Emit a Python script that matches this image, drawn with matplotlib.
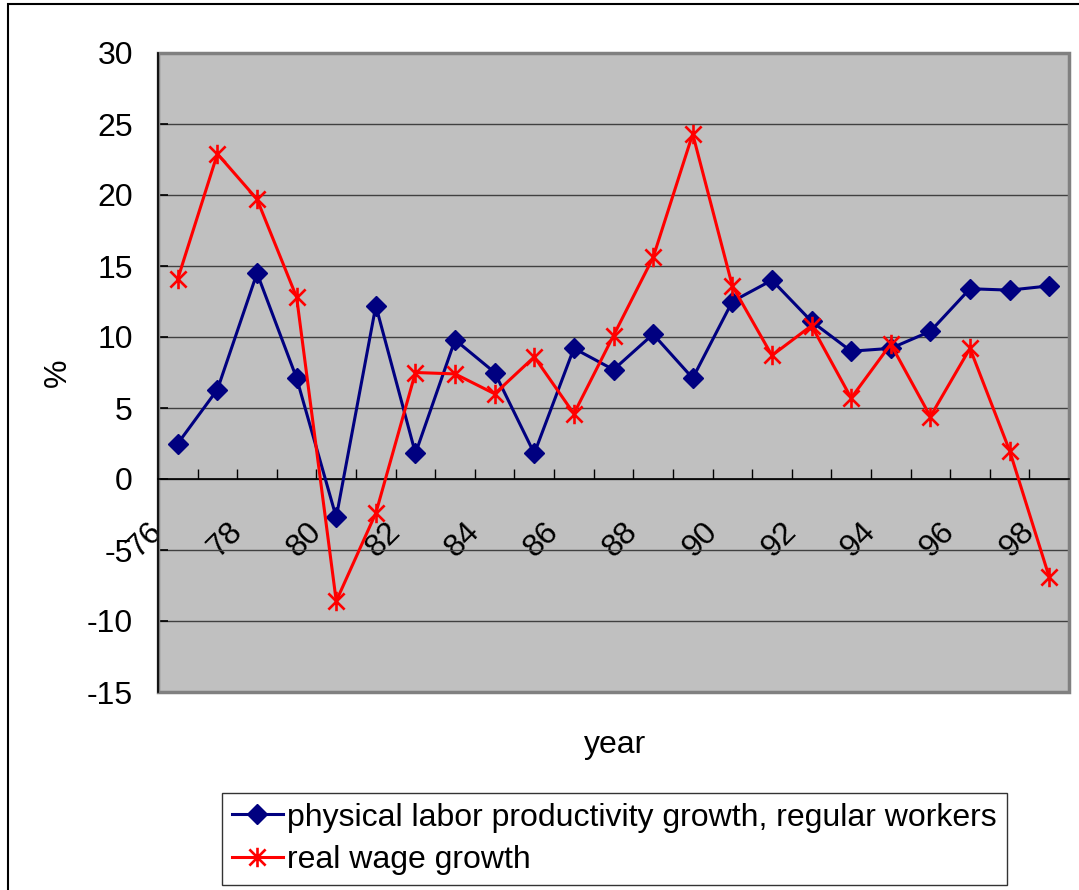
import numpy as np
import matplotlib
matplotlib.use('Agg')
import matplotlib.pyplot as plt
from matplotlib.path import Path
from matplotlib.patches import Rectangle
from matplotlib.transforms import ScaledTranslation

plt.rcParams['font.family'] = ['Liberation Sans', 'DejaVu Sans']
plt.rcParams['axes.unicode_minus'] = False

# years 1976..1998 (two-digit labels, every other one shown)
years = list(range(76, 99))
productivity = [2.5, 6.3, 14.5, 7.1, -2.7, 12.2, 1.8, 9.8, 7.5, 1.8, 9.2, 7.7,
                10.2, 7.1, 12.5, 14.0, 11.1, 9.0, 9.2, 10.4, 13.4, 13.3, 13.6]
real_wage = [14.1, 22.9, 19.7, 12.8, -8.6, -2.4, 7.5, 7.4, 6.0, 8.6, 4.6, 10.1,
             15.6, 24.3, 13.6, 8.7, 10.8, 5.7, 9.5, 4.4, 9.2, 2.0, -6.9]
tick_labels = [str(y) if (y - 76) % 2 == 0 else '' for y in years]

FS = 23

# Excel-like asterisk marker: an X with a vertical bar through it
star = Path([(-1, -1), (1, 1), (-1, 1), (1, -1), (0, -1.2), (0, 1.2)],
            [Path.MOVETO, Path.LINETO, Path.MOVETO, Path.LINETO, Path.MOVETO, Path.LINETO])

fig = plt.figure(figsize=(10.79, 8.90), dpi=100)
ax = fig.add_axes([158/1079, 1 - 692/890, (1069 - 158)/1079, (692 - 53)/890])
ax.set_facecolor('#C0C0C0')

x = np.arange(len(years))
ax.plot(x, productivity, color='#000080', lw=2.2, marker='D', ms=10.5,
        label='physical labor productivity growth, regular workers', zorder=3)
ax.plot(x, real_wage, color='#FF0000', lw=2.2, marker=star, ms=14, mew=1.9,
        mfc='none', label='real wage growth', zorder=3)

ax.set_xlim(-0.5, len(years) - 0.5)
ax.set_ylim(-15, 30)
ax.set_yticks(np.arange(-15, 31, 5))
ax.yaxis.grid(True, color='#404040', lw=1)
ax.set_axisbelow(True)

# category axis crosses at zero, ticks between categories
ax.spines['bottom'].set_position(('data', 0))
ax.spines['bottom'].set_color('black')
ax.spines['bottom'].set_linewidth(1.2)
ax.spines['left'].set_color('black')
ax.spines['left'].set_linewidth(1.2)
ax.spines['top'].set_visible(False)
ax.spines['right'].set_visible(False)
ax.add_patch(Rectangle((0, 0), 1, 1, transform=ax.transAxes, fill=False,
                       edgecolor='#808080', lw=2.5, zorder=1, clip_on=False))

ax.set_xticks(x)
ax.set_xticklabels(tick_labels, rotation=45, ha='right', va='top', fontsize=FS)
ax.set_xticks(list(x[:-1] + 0.5) + [len(years) - 0.5], minor=True)
ax.tick_params(axis='x', which='major', length=0, pad=27)
ax.tick_params(axis='x', which='minor', direction='in', length=7, width=1, color='black')
ax.tick_params(axis='y', direction='in', length=7, width=1.2, labelsize=FS, pad=18)
offset = ScaledTranslation(-0.09, 0, fig.dpi_scale_trans)
for lab in ax.get_xticklabels():
    lab.set_transform(lab.get_transform() + offset)

ax.set_ylabel('%', fontsize=FS)
ax.yaxis.set_label_coords(-0.093, 0.5)
fig.text(615/1079, 1 - 745/890, 'year', fontsize=FS, ha='center', va='center')

leg = fig.legend(loc='upper left', bbox_to_anchor=(222/1079, 1 - 793/890),
                 fontsize=FS, frameon=True, fancybox=False, borderaxespad=0,
                 handlelength=1.6, handletextpad=0.15, borderpad=0.3,
                 labelspacing=0.4)
leg.get_frame().set_edgecolor('black')
leg.get_frame().set_linewidth(1)

# outer chart frame (cut off at right and bottom)
fig.patches.append(Rectangle((8/1079, -0.1), 1.2, 1 - 4/890 + 0.1,
                             transform=fig.transFigure, fill=False,
                             edgecolor='black', lw=1.5))

fig.savefig('out.png', dpi=100)
